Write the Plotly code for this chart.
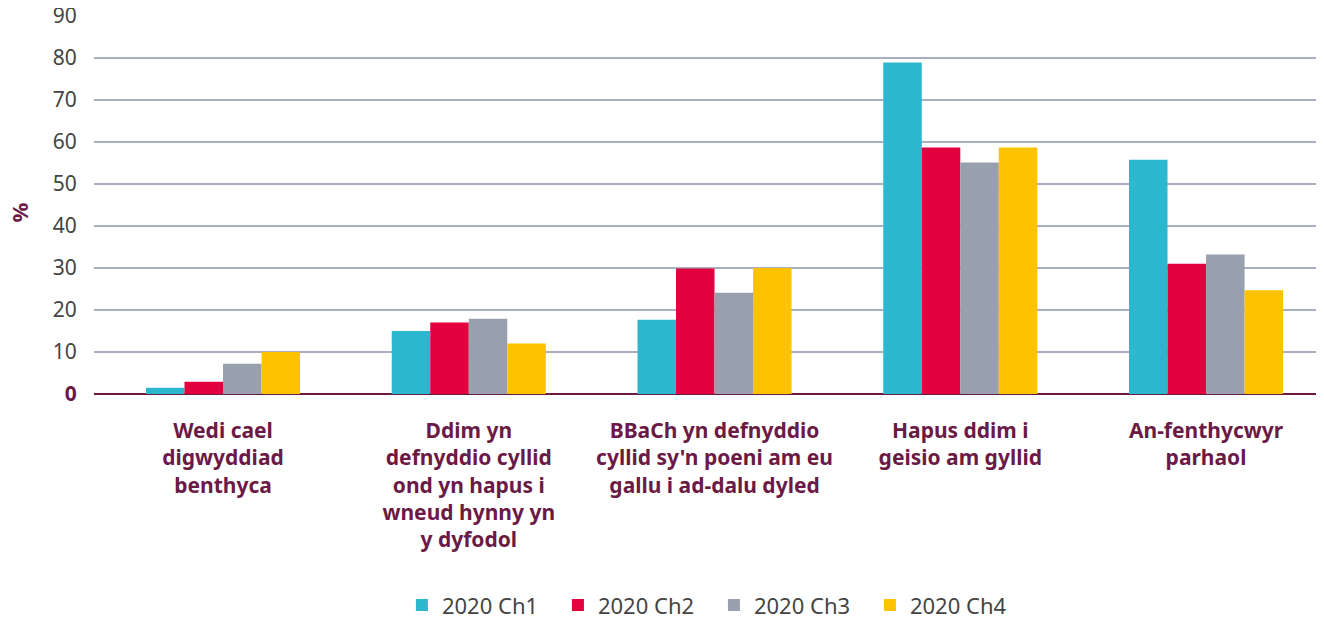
import plotly.graph_objects as go

# Categorïau a gwerthoedd (%)
categories = [
    "Wedi cael<br>digwyddiad<br>benthyca",
    "Ddim yn<br>defnyddio cyllid<br>ond yn hapus i<br>wneud hynny yn<br>y dyfodol",
    "BBaCh yn defnyddio<br>cyllid sy'n poeni am eu<br>gallu i ad-dalu dyled",
    "Hapus ddim i<br>geisio am gyllid",
    "An-fenthycwyr<br>parhaol",
]
ch1 = [1.5, 15, 17.7, 78.9, 55.8]
ch2 = [2.9, 17, 29.9, 58.7, 31]
ch3 = [7.2, 17.9, 24.1, 55.1, 33.2]
ch4 = [10, 12, 30, 58.7, 24.7]

series_names = ["2020 Ch1", "2020 Ch2", "2020 Ch3", "2020 Ch4"]
colors = ["#2bb8cf", "#e4003e", "#99a0ad", "#fdc300"]

y_ticks = list(range(0, 100, 10))
y_ticktext = ["<b><span style='color:#6b1a45'>0</span></b>"] + [str(v) for v in y_ticks[1:]]

MAROON = "#6b1a45"
FONT = "'Noto Sans', 'Open Sans', sans-serif"

fig = go.Figure()
for name, vals, col in zip(series_names, [ch1, ch2, ch3, ch4], colors):
    fig.add_trace(go.Bar(
        name=name,
        x=list(range(len(categories))),
        y=vals,
        marker_color=col,
        marker_line_width=0,
    ))

# the page body has an 8px margin, so the figure is 8px smaller each way
fig.update_layout(
    width=1316,
    height=612,
    barmode="group",
    bargap=0.373,
    bargroupgap=0,
    plot_bgcolor="white",
    paper_bgcolor="white",
    font=dict(family=FONT, size=20, color="#444444"),
    margin=dict(l=86, r=0, t=8, b=225.5, autoexpand=False),
    legend=dict(
        orientation="h",
        x=0.504, y=-0.559,
        xanchor="center", yanchor="middle",
        font=dict(size=22, color="#444444"),
        entrywidth=111,
        entrywidthmode="pixels",
        traceorder="normal",
    ),
    showlegend=True,
)

fig.update_xaxes(
    tickmode="array",
    tickvals=list(range(len(categories))),
    ticktext=["<b>" + c + "</b>" for c in categories],
    tickfont=dict(size=21, color=MAROON),
    range=[-0.525, 4.48],
    showgrid=False,
    ticks="",
    ticklabelstandoff=22,
    automargin=False,
)

fig.update_yaxes(
    range=[0, 90],
    tickmode="array",
    tickvals=y_ticks,
    ticktext=y_ticktext,
    tickfont=dict(size=21, color="#444444"),
    showgrid=True,
    gridcolor="#a9aec0",
    gridwidth=1.5,
    zeroline=True,
    zerolinecolor=MAROON,
    zerolinewidth=2,
    ticks="outside",
    ticklen=12,
    tickcolor="rgba(0,0,0,0)",
    ticklabeloverflow="allow",
    automargin=False,
)

fig.add_annotation(
    text="<b>%</b>",
    xref="paper", yref="paper",
    x=-0.061, y=0.48,
    xanchor="center", yanchor="middle",
    showarrow=False,
    textangle=-90,
    font=dict(size=22, color=MAROON),
)

fig.write_html("out.html")
